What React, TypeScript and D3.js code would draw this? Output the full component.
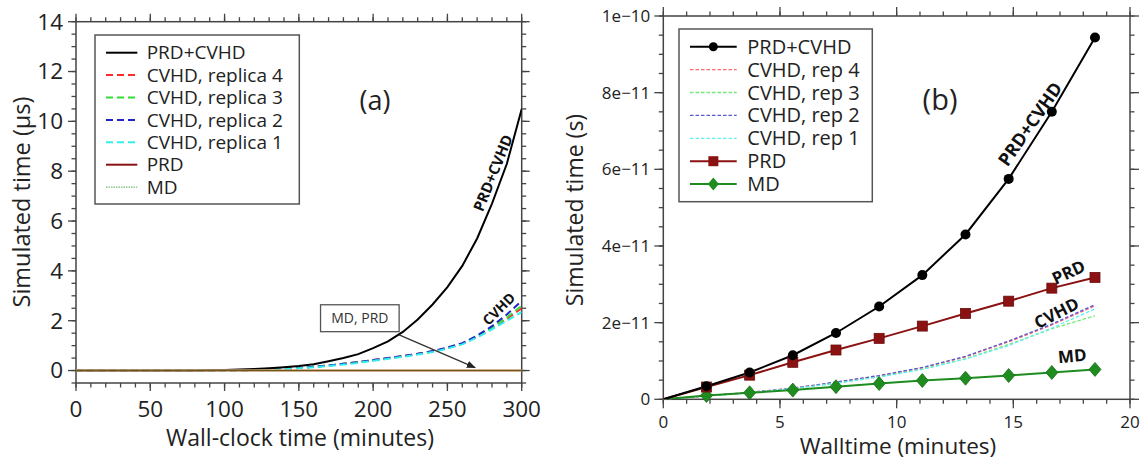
import React from "react";
import * as d3 from "d3";

// ---------- Panel (a) data: wall-clock minutes vs simulated time (µs) ----------
const aTime = [0,10,20,30,40,50,60,70,80,90,100,110,120,130,140,150,160,170,180,190,200,210,220,230,240,250,260,270,280,290,300];
const aPrdCvhd = [0,0,0,0,0,0,0,0,0.005,0.01,0.02,0.04,0.06,0.09,0.13,0.18,0.25,0.37,0.5,0.66,0.9,1.17,1.55,2.05,2.65,3.35,4.2,5.3,6.7,8.3,10.5];
const aRep4 = [0,0,0,0,0,0,0,0,0,0,0,0.01,0.02,0.04,0.07,0.1,0.15,0.2,0.27,0.34,0.42,0.5,0.58,0.67,0.77,0.9,1.08,1.35,1.68,2.07,2.5];
const aRep3 = [0,0,0,0,0,0,0,0,0,0,0,0.01,0.02,0.04,0.07,0.1,0.15,0.2,0.27,0.34,0.41,0.49,0.57,0.66,0.76,0.9,1.08,1.36,1.72,2.13,2.6];
const aRep2 = [0,0,0,0,0,0,0,0,0,0,0,0.01,0.02,0.04,0.07,0.1,0.15,0.2,0.27,0.34,0.42,0.5,0.58,0.67,0.78,0.92,1.1,1.4,1.78,2.25,2.8];
const aRep1 = [0,0,0,0,0,0,0,0,0,0,0,0.01,0.02,0.035,0.06,0.09,0.13,0.18,0.24,0.31,0.39,0.47,0.55,0.64,0.74,0.88,1.05,1.33,1.65,2.0,2.35];
const aFlatTime = [0, 300];
const aPrd = [0, 0];
const aMd = [0, 0];
const aXTicks = [0, 50, 100, 150, 200, 250, 300];
const aYTicks = [0, 2, 4, 6, 8, 10, 12, 14];

// ---------- Panel (b) data: walltime minutes vs simulated time (units of 1e-12 s) ----------
const bTime = [0, 1.85, 3.7, 5.55, 7.4, 9.25, 11.1, 12.95, 14.8, 16.65, 18.5];
const bPrdCvhd = [0, 3.4, 7.0, 11.5, 17.3, 24.2, 32.4, 43.0, 57.5, 75.0, 94.4];
const bRep4 = [0, 0.9, 1.8, 2.9, 4.4, 6.1, 8.2, 11.1, 15.0, 19.4, 24.4];
const bRep3 = [0, 0.9, 1.7, 2.8, 4.2, 5.9, 7.9, 10.6, 14.3, 18.4, 21.8];
const bRep2 = [0, 0.9, 1.8, 2.9, 4.5, 6.2, 8.3, 11.2, 15.2, 19.6, 24.7];
const bRep1 = [0, 0.9, 1.7, 2.8, 4.2, 5.8, 7.8, 10.5, 14.0, 18.6, 23.6];
const bPrd = [0, 3.2, 6.3, 9.65, 12.86, 15.9, 19.1, 22.4, 25.6, 29.0, 31.8];
const bMd = [0, 1.0, 1.7, 2.4, 3.3, 4.1, 4.9, 5.5, 6.2, 7.0, 7.8];
const bXTicks = [0, 5, 10, 15, 20];
const bYTicks = [0, 20, 40, 60, 80, 100];
const bYTickLabels = ["0", "2e\u221211", "4e\u221211", "6e\u221211", "8e\u221211", "1e\u221210"];

const FONT = "'Open Sans', 'DejaVu Sans', sans-serif";
const AXIS = "#444";

type Scale = d3.ScaleLinear<number, number>;

function Frame(props: {
  x: Scale; y: Scale; xMajor: number[]; xMinor: number[]; yMajor: number[]; yMinor: number[];
  xLabels: string[]; yLabels: string[]; fs: number; xLabelDy: number; yLabelDx: number; major: number; minor: number;
}) {
  const { x, y, xMajor, xMinor, yMajor, yMinor, xLabels, yLabels, fs, xLabelDy, yLabelDx, major, minor } = props;
  const [x0, x1] = x.range();
  const [y0, y1] = y.range(); // y0 bottom, y1 top
  const ticks: JSX.Element[] = [];
  xMinor.forEach((v, i) => {
    const px = x(v);
    ticks.push(<line key={"xb" + i} x1={px} x2={px} y1={y0} y2={y0 + minor} />);
    ticks.push(<line key={"xt" + i} x1={px} x2={px} y1={y1} y2={y1 - minor} />);
  });
  xMajor.forEach((v, i) => {
    const px = x(v);
    ticks.push(<line key={"Xb" + i} x1={px} x2={px} y1={y0} y2={y0 + major} />);
    ticks.push(<line key={"Xt" + i} x1={px} x2={px} y1={y1} y2={y1 - major} />);
  });
  yMinor.forEach((v, i) => {
    const py = y(v);
    ticks.push(<line key={"yl" + i} x1={x0} x2={x0 - minor} y1={py} y2={py} />);
    ticks.push(<line key={"yr" + i} x1={x1} x2={x1 + minor} y1={py} y2={py} />);
  });
  yMajor.forEach((v, i) => {
    const py = y(v);
    ticks.push(<line key={"Yl" + i} x1={x0} x2={x0 - major} y1={py} y2={py} />);
    ticks.push(<line key={"Yr" + i} x1={x1} x2={x1 + major} y1={py} y2={py} />);
  });
  return (
    <g>
      <g stroke={AXIS} strokeWidth={1.3}>{ticks}</g>
      <rect x={x0} y={y1} width={x1 - x0} height={y0 - y1} fill="none" stroke={AXIS} strokeWidth={1.5} />
      <g fontFamily={FONT} fontSize={fs} fill="#222">
        {xMajor.map((v, i) => (
          <text key={"xl" + i} x={x(v)} y={y0 + xLabelDy} textAnchor="middle" dy="0.35em">{xLabels[i]}</text>
        ))}
        {yMajor.map((v, i) => (
          <text key={"yl" + i} x={x0 - yLabelDx} y={y(v)} textAnchor="end" dy="0.35em">{yLabels[i]}</text>
        ))}
      </g>
    </g>
  );
}

export default function App() {
  // ----- scales -----
  const xA = d3.scaleLinear().domain([0, 300]).range([76, 521.7]);
  const yA = d3.scaleLinear().domain([-0.5, 14]).range([383, 21.7]);
  const xB = d3.scaleLinear().domain([0, 20]).range([663.3, 1130]);
  const yB = d3.scaleLinear().domain([0, 100]).range([399.3, 16]);

  const lineA = (xs: number[], ys: number[]) =>
    d3.line<number>().x((_, i) => xA(xs[i])).y((v) => yA(v))(ys) || "";
  const lineB = (xs: number[], ys: number[]) =>
    d3.line<number>().x((_, i) => xB(xs[i])).y((v) => yB(v))(ys) || "";

  const aReps = [
    { label: "CVHD, replica 4", ys: aRep4, color: "#ff2a2a" },
    { label: "CVHD, replica 3", ys: aRep3, color: "#33dd33" },
    { label: "CVHD, replica 2", ys: aRep2, color: "#2222cc" },
    { label: "CVHD, replica 1", ys: aRep1, color: "#33eeee" },
  ];
  const bReps = [
    { label: "CVHD, rep 4", ys: bRep4, color: "#ff6a6a" },
    { label: "CVHD, rep 3", ys: bRep3, color: "#77e877" },
    { label: "CVHD, rep 2", ys: bRep2, color: "#5a5ad0" },
    { label: "CVHD, rep 1", ys: bRep1, color: "#66eeee" },
  ];
  const PRD_RED = "#8b1212";
  const MD_GREEN = "#1e8c1e";

  const diamond = (cx: number, cy: number, w: number, h: number) =>
    `M${cx},${cy - h / 2}L${cx + w / 2},${cy}L${cx},${cy + h / 2}L${cx - w / 2},${cy}Z`;

  // ----- legend layout -----
  const legA = { x: 95, y: 35, w: 204.3, h: 169, y0: 52.7, dy: 22.4, lx0: 106, lx1: 137.3, tx: 146.7, fs: 19 };
  const legB = { x: 679, y: 29, w: 193.3, h: 172.7, y0: 46.7, dy: 22.9, lx0: 690, lx1: 736.7, tx: 747.3, fs: 20 };

  return (
    <svg width={1145} height={464} style={{ position: "absolute", left: 0, top: 0, background: "#fff" }}>
      <defs>
        <clipPath id="clipA"><rect x={76} y={21.7} width={445.7} height={361.3} /></clipPath>
        <clipPath id="clipB"><rect x={663.3} y={10} width={466.7} height={389.3} /></clipPath>
        <marker id="arrowHead" viewBox="0 0 10 10" refX="9" refY="5" markerWidth="7" markerHeight="7" orient="auto-start-reverse">
          <path d="M0,1L10,5L0,9Z" fill="#222" />
        </marker>
      </defs>
      <rect x={0} y={0} width={1145} height={464} fill="#fff" />

      {/* ================= Panel (a) ================= */}
      <Frame
        x={xA} y={yA}
        xMajor={aXTicks} xMinor={d3.range(0, 301, 10)}
        yMajor={aYTicks} yMinor={d3.range(-0.5, 14.01, 0.5)}
        xLabels={aXTicks.map(String)} yLabels={aYTicks.map(String)}
        fs={22.5} xLabelDy={26} yLabelDx={13} major={8} minor={4.5}
      />
      <g clipPath="url(#clipA)" fill="none">
        {aReps.map((r, i) => (
          <path key={i} d={lineA(aTime, r.ys)} stroke={r.color} strokeWidth={2} strokeDasharray="7,4" />
        ))}
        <path d={lineA(aTime, aPrdCvhd)} stroke="#000" strokeWidth={2} />
        <path d={lineA(aFlatTime, aPrd)} stroke="#c99a6a" strokeWidth={2.6} />
        <path d={lineA(aFlatTime, aPrd)} stroke="#7a3a1a" strokeWidth={0.9} />
        <path d={lineA(aFlatTime, aMd)} stroke={MD_GREEN} strokeWidth={1} strokeDasharray="1.5,1.5" opacity={0.5} />
      </g>
      {/* annotation box + arrow */}
      <rect x={xA(164.6)} y={yA(2.64)} width={xA(217.5) - xA(164.6)} height={yA(1.56) - yA(2.64)} fill="#fff" stroke="#555" strokeWidth={1.3} />
      <text x={(xA(164.6) + xA(217.5)) / 2} y={(yA(2.64) + yA(1.56)) / 2} dy="0.35em" textAnchor="middle" fontFamily={FONT} fontSize={14} fill="#333">MD, PRD</text>
      <line x1={xA(217.5)} y1={yA(1.43)} x2={xA(268.6)} y2={yA(0.12)} stroke="#333" strokeWidth={1.3} markerEnd="url(#arrowHead)" />
      {/* curve labels */}
      <text transform={`translate(${xA(280.7)},${yA(7.93)}) rotate(-68)`} textAnchor="middle" dy="0.35em" fontFamily={FONT} fontWeight="bold" fontSize={15} fill="#111">PRD+CVHD</text>
      <text transform={`translate(${xA(284.7)},${yA(2.47)}) rotate(-45)`} textAnchor="middle" dy="0.35em" fontFamily={FONT} fontWeight="bold" fontSize={14} fill="#111">CVHD</text>
      <text x={xA(201.2)} y={yA(10.85)} textAnchor="middle" dy="0.35em" fontFamily={FONT} fontSize={27} fill="#222">(a)</text>
      {/* legend (a) */}
      <g>
        <rect x={legA.x} y={legA.y} width={legA.w} height={legA.h} fill="#fff" stroke="#555" strokeWidth={1.5} />
        {[
          { label: "PRD+CVHD", color: "#000", dash: "none", w: 2 },
          ...aReps.map((r) => ({ label: r.label, color: r.color, dash: "7,4", w: 2 })),
          { label: "PRD", color: PRD_RED, dash: "none", w: 2 },
          { label: "MD", color: "#4caf50", dash: "1.5,1", w: 1 },
        ].map((e, i) => {
          const yy = legA.y0 + i * legA.dy;
          return (
            <g key={i}>
              <line x1={legA.lx0} x2={legA.lx1} y1={yy} y2={yy} stroke={e.color} strokeWidth={e.w} strokeDasharray={e.dash} />
              <text x={legA.tx} y={yy} dy="0.35em" fontFamily={FONT} fontSize={legA.fs} fill="#222">{e.label}</text>
            </g>
          );
        })}
      </g>
      <text x={300} y={438} textAnchor="middle" dy="0.35em" fontFamily={FONT} fontSize={23} fill="#222">Wall-clock time (minutes)</text>
      <text transform={`translate(21.4,202) rotate(-90)`} textAnchor="middle" dy="0.35em" fontFamily={FONT} fontSize={23.5} fill="#222">Simulated time (μs)</text>

      {/* ================= Panel (b) ================= */}
      <Frame
        x={xB} y={yB}
        xMajor={bXTicks} xMinor={d3.range(0, 20.01, 1)}
        yMajor={bYTicks} yMinor={d3.range(0, 100.01, 5)}
        xLabels={bXTicks.map(String)} yLabels={bYTickLabels}
        fs={17} xLabelDy={23} yLabelDx={13} major={9} minor={4.5}
      />
      <g clipPath="url(#clipB)" fill="none">
        {bReps.map((r, i) => (
          <path key={i} d={lineB(bTime, r.ys)} stroke={r.color} strokeWidth={1.3} strokeDasharray="3.5,2" />
        ))}
        <path d={lineB(bTime, bMd)} stroke={MD_GREEN} strokeWidth={2} />
        <path d={lineB(bTime, bPrd)} stroke={PRD_RED} strokeWidth={2} />
        <path d={lineB(bTime, bPrdCvhd)} stroke="#000" strokeWidth={2} />
      </g>
      <g>
        {bTime.slice(1).map((t, i) => (
          <path key={"md" + i} d={diamond(xB(t), yB(bMd[i + 1]), 12, 14)} fill={MD_GREEN} stroke="#187018" strokeWidth={0.8} />
        ))}
        {bTime.slice(1).map((t, i) => (
          <rect key={"prd" + i} x={xB(t) - 5} y={yB(bPrd[i + 1]) - 5} width={10} height={10} fill={PRD_RED} stroke="#6e0c0c" strokeWidth={0.8} />
        ))}
        {bTime.slice(1).map((t, i) => (
          <circle key={"pc" + i} cx={xB(t)} cy={yB(bPrdCvhd[i + 1])} r={5} fill="#000" />
        ))}
      </g>
      {/* curve labels */}
      <text transform={`translate(${xB(15.72)},${yB(71.8)}) rotate(-55)`} textAnchor="middle" dy="0.35em" fontFamily={FONT} fontWeight="bold" fontSize={18} fill="#111">PRD+CVHD</text>
      <text transform={`translate(${xB(17.37)},${yB(33.1)}) rotate(-25)`} textAnchor="middle" dy="0.35em" fontFamily={FONT} fontWeight="bold" fontSize={17} fill="#111">PRD</text>
      <text transform={`translate(${xB(16.85)},${yB(22.5)}) rotate(-27)`} textAnchor="middle" dy="0.35em" fontFamily={FONT} fontWeight="bold" fontSize={17} fill="#111">CVHD</text>
      <text transform={`translate(${xB(17.53)},${yB(11.3)}) rotate(-5)`} textAnchor="middle" dy="0.35em" fontFamily={FONT} fontWeight="bold" fontSize={17} fill="#111">MD</text>
      <text x={xB(11.86)} y={yB(78.1)} textAnchor="middle" dy="0.35em" fontFamily={FONT} fontSize={29} fill="#222">(b)</text>
      {/* legend (b) */}
      <g>
        <rect x={legB.x} y={legB.y} width={legB.w} height={legB.h} fill="#fff" stroke="#555" strokeWidth={1.5} />
        {[
          { label: "PRD+CVHD", color: "#000", dash: "none", w: 2, m: "circle" },
          ...bReps.map((r) => ({ label: r.label, color: r.color, dash: "3.5,2", w: 1.3, m: "" })),
          { label: "PRD", color: PRD_RED, dash: "none", w: 2, m: "square" },
          { label: "MD", color: MD_GREEN, dash: "none", w: 2, m: "diamond" },
        ].map((e, i) => {
          const yy = legB.y0 + i * legB.dy;
          const cx = (legB.lx0 + legB.lx1) / 2;
          return (
            <g key={i}>
              <line x1={legB.lx0} x2={legB.lx1} y1={yy} y2={yy} stroke={e.color} strokeWidth={e.w} strokeDasharray={e.dash} />
              {e.m === "circle" && <circle cx={cx} cy={yy} r={4.5} fill="#000" />}
              {e.m === "square" && <rect x={cx - 5} y={yy - 5} width={10} height={10} fill={PRD_RED} />}
              {e.m === "diamond" && <path d={diamond(cx, yy, 11, 13)} fill={MD_GREEN} />}
              <text x={legB.tx} y={yy} dy="0.35em" fontFamily={FONT} fontSize={legB.fs} fill="#222">{e.label}</text>
            </g>
          );
        })}
      </g>
      <text x={898} y={446} textAnchor="middle" dy="0.35em" fontFamily={FONT} fontSize={22.5} fill="#222">Walltime (minutes)</text>
      <text transform={`translate(575,210) rotate(-90)`} textAnchor="middle" dy="0.35em" fontFamily={FONT} fontSize={23} fill="#222">Simulated time (s)</text>
    </svg>
  );
}
